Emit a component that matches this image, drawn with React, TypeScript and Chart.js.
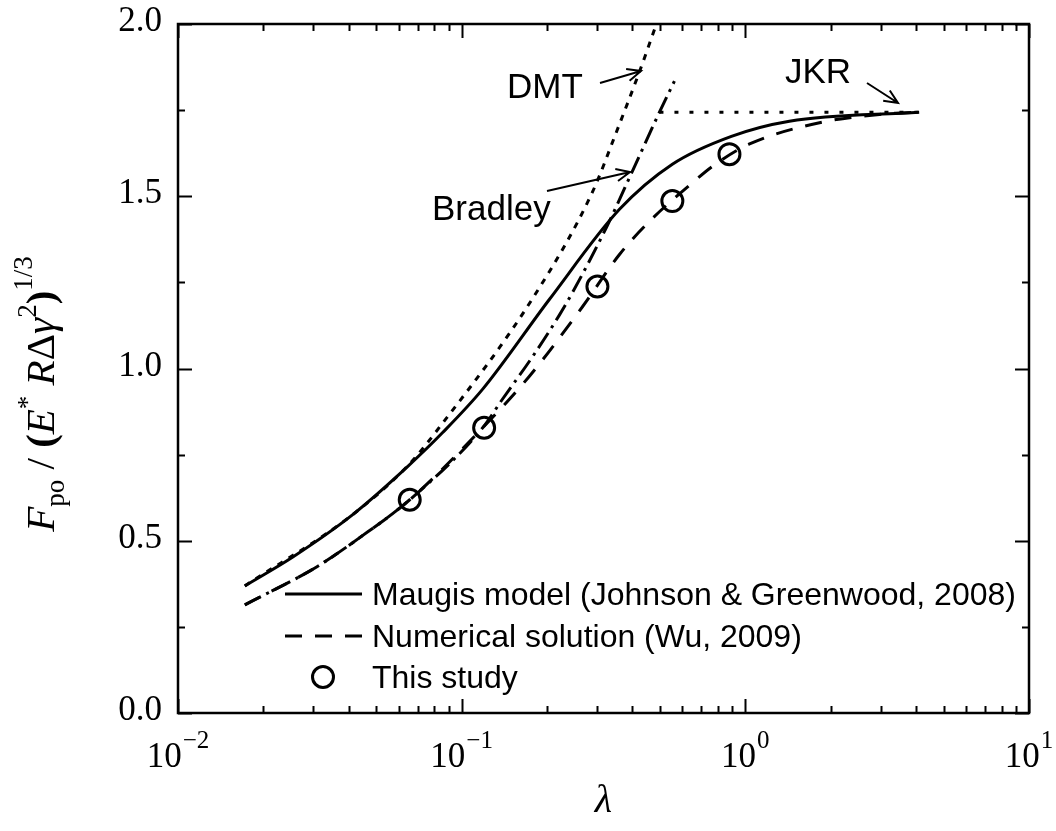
import React, { useEffect, useRef } from "react";
import { Chart, registerables } from "chart.js";

Chart.register(...registerables);

// ---- Data ----
const maugisLambda = [0.0172, 0.0254, 0.0413, 0.0646, 0.0857, 0.1186, 0.204, 0.36, 0.553, 0.893, 1.43, 4.1];
const maugisF = [0.369, 0.453, 0.576, 0.716, 0.814, 0.94, 1.201, 1.462, 1.593, 1.674, 1.718, 1.744];

const wuLambda = [0.0172, 0.0308, 0.0437, 0.0656, 0.1186, 0.173, 0.267, 0.36, 0.459, 0.661, 0.766, 1.03, 1.87, 3.03, 4.1];
const wuF = [0.314, 0.424, 0.509, 0.619, 0.828, 0.977, 1.18, 1.331, 1.427, 1.544, 1.587, 1.651, 1.715, 1.738, 1.744];

const studyLambda = [0.0656, 0.12, 0.301, 0.553, 0.879];
const studyF = [0.619, 0.828, 1.238, 1.486, 1.622];

const dmtLambda = [0.0172, 0.0413, 0.0646, 0.0838, 0.18, 0.289, 0.351, 0.424, 0.486];
const dmtF = [0.369, 0.576, 0.718, 0.831, 1.21, 1.512, 1.686, 1.863, 2.0];

const bradleyLambda = [0.0172, 0.0308, 0.0437, 0.0656, 0.1186, 0.139, 0.178, 0.221, 0.246, 0.324, 0.4, 0.498, 0.5623];
const bradleyF = [0.314, 0.424, 0.509, 0.619, 0.828, 0.91, 1.035, 1.155, 1.221, 1.41, 1.573, 1.744, 1.834];

const jkrLambda = [0.498, 4.1];
const jkrF = [1.744, 1.744];

const yTickValues = [0, 0.5, 1.0, 1.5, 2.0];
const yTickLabels = ["0.0", "0.5", "1.0", "1.5", "2.0"];
const xTickValues = [0.01, 0.1, 1, 10];
const xTickExponents = ["\u22122", "\u22121", "0", "1"];

const legendLabels = [
  "Maugis model (Johnson & Greenwood, 2008)",
  "Numerical solution (Wu, 2009)",
  "This study",
];

const SERIF = "'Liberation Serif', 'Times New Roman', serif";
const SANS = "'Liberation Sans', Arial, sans-serif";

const toXY = (xs: number[], ys: number[]) => xs.map((x, i) => ({ x, y: ys[i] }));

function drawArrow(ctx: CanvasRenderingContext2D, x1: number, y1: number, x2: number, y2: number) {
  ctx.beginPath();
  ctx.moveTo(x1, y1);
  ctx.lineTo(x2, y2);
  const ang = Math.atan2(y2 - y1, x2 - x1);
  const h = 15;
  const spread = 0.42;
  ctx.moveTo(x2 - h * Math.cos(ang - spread), y2 - h * Math.sin(ang - spread));
  ctx.lineTo(x2, y2);
  ctx.lineTo(x2 - h * Math.cos(ang + spread), y2 - h * Math.sin(ang + spread));
  ctx.stroke();
}

type Run = { t: string; font: string; dy: number };

function drawRuns(ctx: CanvasRenderingContext2D, runs: Run[], cx: number, baseY: number) {
  let total = 0;
  const widths = runs.map((r) => {
    ctx.font = r.font;
    const w = ctx.measureText(r.t).width;
    total += w;
    return w;
  });
  let x = cx - total / 2;
  runs.forEach((r, i) => {
    ctx.font = r.font;
    ctx.fillText(r.t, x, baseY + r.dy);
    x += widths[i];
  });
}

const framePlugin = {
  id: "framePlugin",
  afterDraw(chart: any) {
    const { ctx, chartArea: a, scales } = chart;
    const xs = scales.x;
    const ys = scales.y;
    ctx.save();
    ctx.strokeStyle = "#000";
    ctx.fillStyle = "#000";
    ctx.setLineDash([]);

    // frame
    ctx.lineWidth = 2.5;
    ctx.strokeRect(a.left, a.top, a.right - a.left, a.bottom - a.top);

    // x ticks (log)
    ctx.lineWidth = 2;
    ctx.beginPath();
    for (let d = -2; d <= 1; d++) {
      for (let m = 1; m <= 9; m++) {
        const v = m * Math.pow(10, d);
        if (v > 10.0001) break;
        const px = Math.round(xs.getPixelForValue(v)) + 0.5;
        const len = m === 1 ? 14 : 7;
        ctx.moveTo(px, a.bottom);
        ctx.lineTo(px, a.bottom - len);
        ctx.moveTo(px, a.top);
        ctx.lineTo(px, a.top + len);
      }
    }
    // y ticks
    for (let k = 0; k <= 8; k++) {
      const v = k * 0.25;
      const py = Math.round(ys.getPixelForValue(v)) + 0.5;
      const len = k % 2 === 0 ? 14 : 7;
      ctx.moveTo(a.left, py);
      ctx.lineTo(a.left + len, py);
      ctx.moveTo(a.right, py);
      ctx.lineTo(a.right - len, py);
    }
    ctx.stroke();

    // y tick labels
    ctx.font = `35px ${SERIF}`;
    ctx.textAlign = "right";
    ctx.textBaseline = "middle";
    yTickValues.forEach((v, i) => {
      ctx.fillText(yTickLabels[i], a.left - 16, ys.getPixelForValue(v) - 2);
    });

    // x tick labels 10^n
    ctx.textAlign = "left";
    ctx.textBaseline = "alphabetic";
    xTickValues.forEach((v, i) => {
      const px = xs.getPixelForValue(v);
      ctx.font = `35px ${SERIF}`;
      const w1 = ctx.measureText("10").width;
      ctx.font = `25px ${SERIF}`;
      const w2 = ctx.measureText(xTickExponents[i]).width;
      const start = px - (w1 + w2 + 1) / 2;
      ctx.font = `35px ${SERIF}`;
      ctx.fillText("10", start, a.bottom + 54);
      ctx.font = `25px ${SERIF}`;
      ctx.fillText(xTickExponents[i], start + w1 + 1, a.bottom + 35);
    });

    // x axis title
    ctx.font = `italic 40px ${SERIF}`;
    ctx.textAlign = "center";
    ctx.fillText("\u03bb", (a.left + a.right) / 2, 812);

    // y axis title (rotated)
    ctx.save();
    ctx.translate(54, 394);
    ctx.rotate(-Math.PI / 2);
    ctx.textAlign = "left";
    const big = 41;
    const small = 27;
    drawRuns(
      ctx,
      [
        { t: "F", font: `italic ${big}px ${SERIF}`, dy: 0 },
        { t: "po", font: `${small}px ${SERIF}`, dy: 10 },
        { t: " / ", font: `${big}px ${SERIF}`, dy: 0 },
        { t: "(", font: `bold ${big}px ${SERIF}`, dy: 0 },
        { t: "E", font: `italic ${big}px ${SERIF}`, dy: 0 },
        { t: "*", font: `${small}px ${SERIF}`, dy: -18 },
        { t: " R", font: `italic ${big}px ${SERIF}`, dy: 0 },
        { t: "\u0394", font: `${big}px ${SERIF}`, dy: 0 },
        { t: "\u03b3", font: `italic ${big}px ${SERIF}`, dy: 0 },
        { t: "2", font: `${small}px ${SERIF}`, dy: -18 },
        { t: ")", font: `bold ${big}px ${SERIF}`, dy: 0 },
        { t: "1/3", font: `${small}px ${SERIF}`, dy: -22 },
      ],
      0,
      0
    );
    ctx.restore();

    // annotations
    ctx.font = `35px ${SANS}`;
    ctx.textAlign = "left";
    ctx.fillText("DMT", 507, 98);
    ctx.fillText("Bradley", 432, 220);
    ctx.fillText("JKR", 785, 83);
    ctx.lineWidth = 2;
    drawArrow(ctx, 600, 83, 641, 71);
    drawArrow(ctx, 547, 191, 630, 172);
    drawArrow(ctx, 867, 83, 898, 103);

    // legend
    ctx.lineWidth = 3;
    ctx.beginPath();
    ctx.moveTo(285, 594);
    ctx.lineTo(362, 594);
    ctx.stroke();
    ctx.setLineDash([17, 13]);
    ctx.beginPath();
    ctx.moveTo(285, 636);
    ctx.lineTo(362, 636);
    ctx.stroke();
    ctx.setLineDash([]);
    ctx.beginPath();
    ctx.arc(323, 677, 10.5, 0, Math.PI * 2);
    ctx.stroke();
    ctx.font = `32px ${SANS}`;
    ctx.fillText(legendLabels[0], 372, 605);
    ctx.fillText(legendLabels[1], 372, 647);
    ctx.fillText(legendLabels[2], 372, 688);

    ctx.restore();
  },
};

export default function App() {
  const canvasRef = useRef<HTMLCanvasElement | null>(null);

  useEffect(() => {
    if (!canvasRef.current) return;
    const lineBase = {
      borderColor: "#000",
      backgroundColor: "#000",
      pointRadius: 0,
      fill: false,
      cubicInterpolationMode: "monotone" as const,
    };
    const chart = new Chart(canvasRef.current, {
      type: "line",
      data: {
        datasets: [
          {
            label: "This study",
            data: toXY(studyLambda, studyF),
            showLine: false,
            pointRadius: 10.5,
            pointBorderWidth: 3,
            pointBorderColor: "#000",
            pointBackgroundColor: "rgba(0,0,0,0)",
            borderColor: "#000",
          },
          { ...lineBase, label: "Maugis", data: toXY(maugisLambda, maugisF), borderWidth: 3 },
          { ...lineBase, label: "Wu", data: toXY(wuLambda, wuF), borderWidth: 3, borderDash: [17, 13] },
          { ...lineBase, label: "DMT", data: toXY(dmtLambda, dmtF), borderWidth: 3, borderDash: [6, 7] },
          { ...lineBase, label: "Bradley", data: toXY(bradleyLambda, bradleyF), borderWidth: 3, borderDash: [18, 6, 3, 6] },
          { ...lineBase, label: "JKR", data: toXY(jkrLambda, jkrF), borderWidth: 3, borderDash: [4, 11] },
        ],
      },
      options: {
        responsive: false,
        animation: false,
        devicePixelRatio: 1,
        layout: { padding: { left: 178, top: 24, right: 27, bottom: 118 } },
        scales: {
          x: { type: "logarithmic", min: 0.01, max: 10, display: false },
          y: { type: "linear", min: 0, max: 2, display: false },
        },
        plugins: { legend: { display: false }, tooltip: { enabled: false } },
        events: [],
      },
      plugins: [framePlugin],
    });
    return () => chart.destroy();
  }, []);

  return (
    <div style={{ position: "absolute", left: 0, top: 0, width: 1056, height: 831, background: "#fff" }}>
      <canvas ref={canvasRef} width={1056} height={831} style={{ display: "block" }} />
    </div>
  );
}
